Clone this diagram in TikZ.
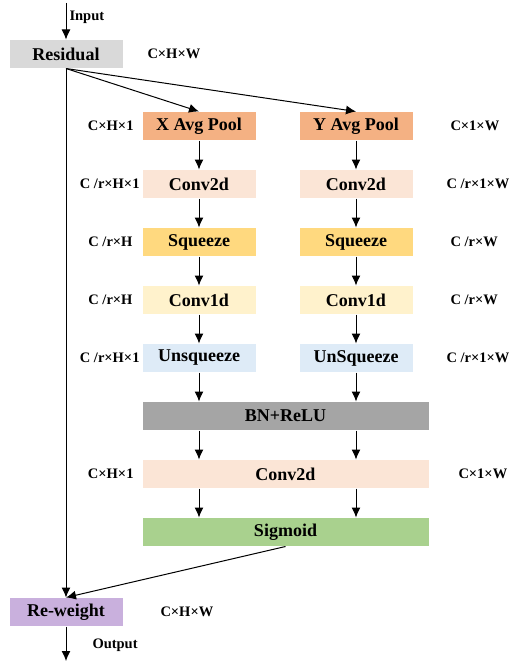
\documentclass[tikz,border=0pt]{standalone}
\usepackage{fontspec}
\setmainfont{Liberation Serif}
\usepackage{tikz}
\usetikzlibrary{arrows.meta, calc, chains, positioning}

\definecolor{resgray}{HTML}{D9D9D9}
\definecolor{poolorange}{HTML}{F4B183}
\definecolor{convpeach}{HTML}{FBE5D6}
\definecolor{sqyellow}{HTML}{FFD97F}
\definecolor{convyellow}{HTML}{FFF2CC}
\definecolor{unsqblue}{HTML}{DEEBF7}
\definecolor{bngray}{HTML}{A5A5A5}
\definecolor{siggreen}{HTML}{A9D18E}
\definecolor{rwpurple}{HTML}{C9B0DD}

\begin{document}
\begin{tikzpicture}[x=1pt, y=-1pt, >={Latex[length=10pt,width=9pt]}, line width=1pt,
  font=\fontsize{18}{21}\selectfont\bfseries, node distance=29pt,
  box/.style={minimum width=113pt, minimum height=28pt, inner sep=0pt},
  widebox/.style={minimum width=286pt, minimum height=28pt, inner sep=0pt},
  dim/.style={font=\fontsize{14.5}{17}\selectfont\bfseries, inner sep=0pt}]
\useasboundingbox (0,0) rectangle (517,661);

\node [box, fill=resgray] (res) at (66,54) {Residual};

\begin{scope}[start chain=going below]
    \node [box, fill=poolorange, on chain] (xpool) at (199,126) {X Avg Pool};
    \node [box, fill=convpeach, on chain] (xconv) {Conv2d};
    \node [box, fill=sqyellow, on chain] (xsq) {Squeeze};
    \node [box, fill=convyellow, on chain] (xone) {Conv1d};
    \node [box, fill=unsqblue, on chain] (xunsq) {Unsqueeze};
\end{scope}

\begin{scope}[start chain=going below]
    \node [box, fill=poolorange, on chain] (ypool) at (356,126) {Y Avg Pool};
    \node [box, fill=convpeach, on chain] (yconv) {Conv2d};
    \node [box, fill=sqyellow, on chain] (ysq) {Squeeze};
    \node [box, fill=convyellow, on chain] (yone) {Conv1d};
    \node [box, fill=unsqblue, on chain] (yunsq) {UnSqueeze};
\end{scope}

\begin{scope}[start chain=going below]
    \node [widebox, fill=bngray, on chain, below=29pt of xunsq.south west, anchor=north west] (bn) {BN+ReLU};
    \node [widebox, fill=convpeach, on chain] (conv) {Conv2d};
    \node [widebox, fill=siggreen, on chain] (sig) {Sigmoid};
\end{scope}

\node [box, fill=rwpurple] (rw) at (66,612) {Re-weight};

\coordinate (in) at (66,3);
\coordinate (out) at (66,661);

\draw[->] (in) -- (res.north);
\draw[->] (res.south) -- (xpool.north);
\draw[->] (res.south) -- (ypool.north);
\draw[->] (xpool) -- (xconv);
\draw[->] (xconv) -- (xsq);
\draw[->] (xsq) -- (xone);
\draw[->] (xone) -- (xunsq);
\draw[->] (xunsq) -- (bn.north -| xunsq);
\draw[->] (ypool) -- (yconv);
\draw[->] (yconv) -- (ysq);
\draw[->] (ysq) -- (yone);
\draw[->] (yone) -- (yunsq);
\draw[->] (yunsq) -- (bn.north -| yunsq);
\draw[->] (bn.south -| xunsq) -- (conv.north -| xunsq);
\draw[->] (bn.south -| yunsq) -- (conv.north -| yunsq);
\draw[->] (conv.south -| xunsq) -- (sig.north -| xunsq);
\draw[->] (conv.south -| yunsq) -- (sig.north -| yunsq);
\draw[->] (res.south) -- (rw.north);
\draw[->] (sig.south) -- (rw.north);
\draw[->] (rw.south) -- (out);

\node[dim, anchor=west] (intext) at (69,17) {Input};
\node[dim, anchor=west] (outtext) at (92,645) {Output};
\node[dim, right=24pt of res] {C×H×W};
\node[dim, right=37pt of rw] {C×H×W};
\node[dim, left=8pt of xpool] {C×H×1};
\node[dim, left=2pt of xconv] {C /r×H×1};
\node[dim, left=9pt of xsq] {C /r×H};
\node[dim, left=9pt of xone] {C /r×H};
\node[dim, left=2pt of xunsq] {C /r×H×1};
\node[dim, left=8pt of conv] {C×H×1};
\node[dim, right=37pt of ypool] {C×1×W};
\node[dim, right=33pt of yconv] {C /r×1×W};
\node[dim, right=37pt of ysq] {C /r×W};
\node[dim, right=37pt of yone] {C /r×W};
\node[dim, right=33pt of yunsq] {C /r×1×W};
\node[dim, right=29pt of conv] {C×1×W};
\end{tikzpicture}
\end{document}
